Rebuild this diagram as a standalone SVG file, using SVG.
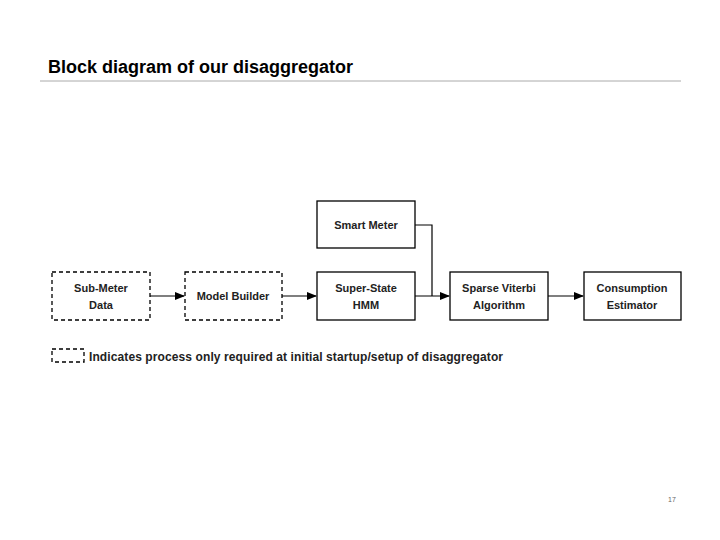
<svg xmlns="http://www.w3.org/2000/svg" width="720" height="540" viewBox="0 0 720 540">
<defs>
<marker id="a" markerWidth="10" markerHeight="8" refX="9" refY="4" orient="auto" markerUnits="userSpaceOnUse"><path d="M0,0L10,4L0,8z" fill="#000"/></marker>
<style>
.b{fill:#fff;stroke:#000;stroke-width:1.3}
.d{stroke-dasharray:4,3}
.t{font-family:"Liberation Sans",sans-serif;font-weight:bold;font-size:11px;text-anchor:middle;fill:#222}
.c{fill:none;stroke:#000;stroke-width:1.2}
</style>
</defs>
<rect width="720" height="540" fill="#fff"/>
<text x="48" y="73" font-family="Liberation Sans,sans-serif" font-weight="bold" font-size="18" fill="#000">Block diagram of our disaggregator</text>
<line x1="40" y1="81" x2="681" y2="81" stroke="#aaa" stroke-width="1"/>
<g id="submeter"><rect class="b d" x="52" y="272" width="98" height="48"/><text class="t" x="101" y="292">Sub-Meter</text><text class="t" x="101" y="309">Data</text></g>
<g id="modelbuilder"><rect class="b d" x="185" y="272" width="97" height="48"/><text class="t" x="233" y="300">Model Builder</text></g>
<g id="superstate"><rect class="b" x="317" y="272" width="98" height="48"/><text class="t" x="366" y="292">Super-State</text><text class="t" x="366" y="309">HMM</text></g>
<g id="smartmeter"><rect class="b" x="317" y="201" width="98" height="47"/><text class="t" x="366" y="229">Smart Meter</text></g>
<g id="viterbi"><rect class="b" x="450" y="272" width="98" height="48"/><text class="t" x="499" y="292">Sparse Viterbi</text><text class="t" x="499" y="309">Algorithm</text></g>
<g id="consumption"><rect class="b" x="584" y="272" width="97" height="48"/><text class="t" x="632" y="292">Consumption</text><text class="t" x="632" y="309">Estimator</text></g>
<g id="connectors">
<line class="c" x1="150" y1="296" x2="184" y2="296" marker-end="url(#a)"/>
<line class="c" x1="282" y1="296" x2="316" y2="296" marker-end="url(#a)"/>
<line class="c" x1="415" y1="296" x2="449" y2="296" marker-end="url(#a)"/>
<polyline class="c" points="415,225 432,225 432,296"/>
<line class="c" x1="548" y1="296" x2="583" y2="296" marker-end="url(#a)"/>
</g>
<g id="legend"><rect class="b d" x="52" y="349" width="32" height="13"/><text x="89" y="361" font-family="Liberation Sans,sans-serif" font-weight="bold" font-size="12" fill="#222" textLength="414">Indicates process only required at initial startup/setup of disaggregator</text></g>
<text x="668" y="502" font-family="Liberation Sans,sans-serif" font-size="7" fill="#666">17</text>
</svg>
